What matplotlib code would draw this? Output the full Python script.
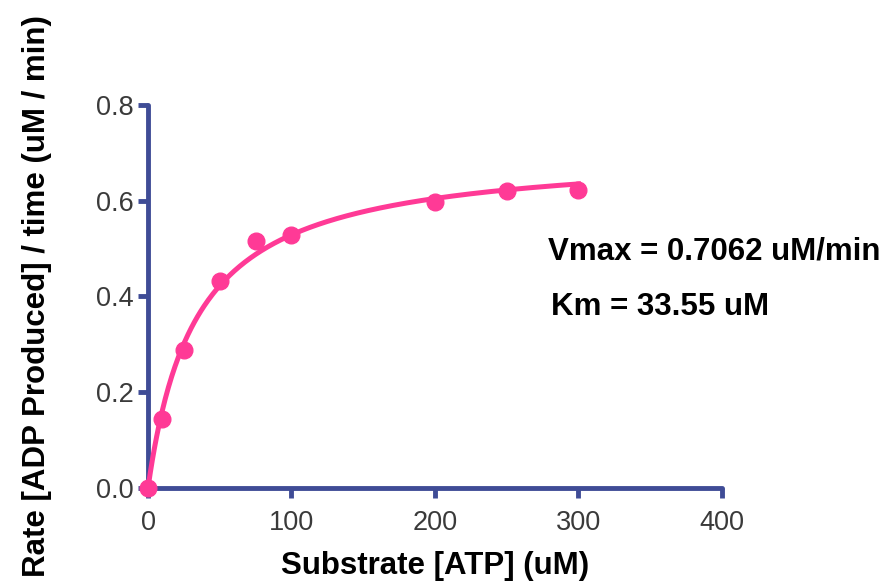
import numpy as np
import matplotlib.pyplot as plt

plt.rcParams['font.family'] = ['Liberation Sans', 'DejaVu Sans']

# measured rates
substrate = [0, 10, 25, 50, 75, 100, 200, 250, 300]
rate = [0.0, 0.145, 0.288, 0.432, 0.515, 0.529, 0.598, 0.621, 0.623]

# Michaelis-Menten fit parameters
vmax = 0.7062
km = 33.55

axis_color = '#3F4C96'
pink = '#FF3A96'

fig = plt.figure(figsize=(8.9, 5.87), dpi=100)
ax = fig.add_axes([0.1663, 0.1687, 0.6449, 0.6524])

xs = np.linspace(0, 300, 400)
ax.plot(xs, vmax * xs / (km + xs), color=pink, lw=3.6, clip_on=False, zorder=3)
ax.plot(substrate, rate, 'o', color=pink, ms=12, clip_on=False, zorder=4)

ax.set_xlim(0, 400)
ax.set_ylim(0, 0.8)
ax.set_xticks([0, 100, 200, 300, 400])
ax.set_yticks([0.0, 0.2, 0.4, 0.6, 0.8])
ax.set_yticklabels(['0.0', '0.2', '0.4', '0.6', '0.8'])

for side in ['top', 'right']:
    ax.spines[side].set_visible(False)
for side in ['left', 'bottom']:
    ax.spines[side].set_color(axis_color)
    ax.spines[side].set_linewidth(3.5)
    ax.spines[side].set_capstyle('round')
ax.tick_params(colors=axis_color, width=3.5, length=7, labelsize=19.5,
               labelcolor='#3A3A3A')
ax.tick_params(axis='x', pad=9)
ax.tick_params(axis='y', pad=3)

ax.set_xlabel('Substrate [ATP] (uM)', fontsize=22.5, fontweight='bold', labelpad=11)
ax.set_ylabel('Rate [ADP Produced] / time (uM / min)', fontsize=22.5,
              fontweight='bold', labelpad=32)

fig.text(548 / 890, 1 - 252 / 587, 'Vmax = %.4f uM/min' % vmax, fontsize=22.5,
         fontweight='bold', va='center', ha='left')
fig.text(551 / 890, 1 - 307 / 587, 'Km = %.2f uM' % km, fontsize=22.5,
         fontweight='bold', va='center', ha='left')

fig.savefig('out.png', dpi=100)
